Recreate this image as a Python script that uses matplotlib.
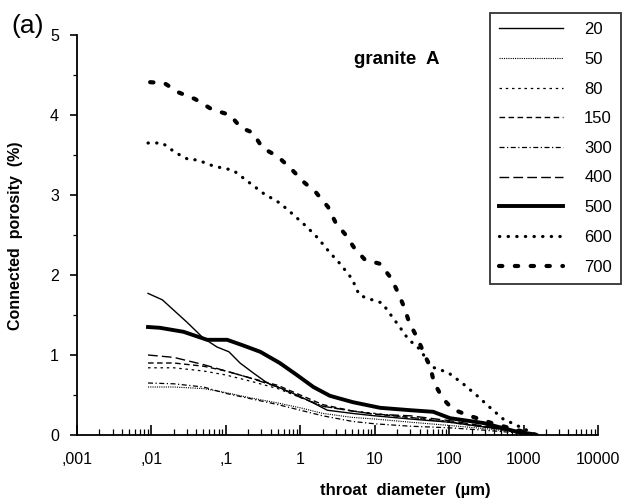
import matplotlib
matplotlib.use("Agg")
import matplotlib.pyplot as plt
from matplotlib.ticker import FixedLocator, LogLocator, NullFormatter

plt.rcParams['font.family'] = ['Liberation Sans', 'DejaVu Sans']

# throat diameter (um) and connected porosity (%)
x_common = [0.009, 0.02, 0.05, 0.1, 0.2, 0.5, 1, 2, 5, 10, 30, 100, 300, 1000, 1500]

x20 = [0.009, 0.014, 0.03, 0.05, 0.076, 0.11, 0.155, 0.23, 0.36, 0.53, 0.9, 1.5, 2.3, 5, 10, 30, 100, 300, 1000, 1500]
y20 = [1.77, 1.69, 1.41, 1.21, 1.1, 1.04, 0.9, 0.78, 0.65, 0.59, 0.5, 0.4, 0.31, 0.27, 0.24, 0.2, 0.16, 0.1, 0.04, 0.0]

y50 = [0.6, 0.6, 0.58, 0.53, 0.47, 0.4, 0.34, 0.27, 0.22, 0.2, 0.16, 0.12, 0.08, 0.03, 0.0]
y80 = [0.84, 0.84, 0.8, 0.75, 0.68, 0.58, 0.47, 0.36, 0.3, 0.27, 0.22, 0.17, 0.1, 0.04, 0.0]
y150 = [0.9, 0.9, 0.86, 0.8, 0.72, 0.62, 0.5, 0.38, 0.3, 0.26, 0.22, 0.16, 0.1, 0.03, 0.0]
y300 = [0.65, 0.64, 0.6, 0.52, 0.46, 0.38, 0.31, 0.24, 0.17, 0.14, 0.11, 0.09, 0.06, 0.02, 0.0]
y400 = [1.0, 0.97, 0.88, 0.8, 0.72, 0.6, 0.47, 0.36, 0.3, 0.26, 0.24, 0.18, 0.11, 0.04, 0.0]

x500 = [0.009, 0.013, 0.027, 0.056, 0.104, 0.17, 0.29, 0.53, 0.9, 1.5, 2.5, 5.1, 11.8, 30, 61, 103, 287, 820, 1350]
y500 = [1.35, 1.34, 1.29, 1.19, 1.19, 1.12, 1.04, 0.9, 0.75, 0.6, 0.49, 0.41, 0.34, 0.31, 0.29, 0.21, 0.15, 0.04, 0.01]

x600 = [0.009, 0.014, 0.021, 0.032, 0.041, 0.069, 0.125, 0.21, 0.32, 0.53, 0.75, 1.23, 1.73, 2.44, 3.43,
        4.97, 6.2, 7.9, 12.6, 15.6, 21.3, 28.1, 39.5, 59, 97, 154, 238, 367, 532, 900, 1230]
y600 = [3.65, 3.65, 3.53, 3.44, 3.44, 3.36, 3.31, 3.15, 3.02, 2.9, 2.78, 2.6, 2.46, 2.29, 2.14,
        1.95, 1.75, 1.71, 1.65, 1.53, 1.36, 1.2, 1.08, 0.85, 0.78, 0.64, 0.49, 0.33, 0.2, 0.1, 0.04]

x700 = [0.0096, 0.0148, 0.0235, 0.0385, 0.065, 0.114, 0.16, 0.23, 0.31, 0.5, 0.73, 1.12, 1.63, 2.36, 3.0,
        4.0, 5.3, 7.4, 11.8, 16.6, 20.6, 24.8, 29, 37, 45, 55.6, 63, 83, 113, 175, 400, 1000, 1500]
y700 = [4.41, 4.4, 4.28, 4.2, 4.07, 4.0, 3.84, 3.78, 3.59, 3.48, 3.34, 3.16, 3.03, 2.85, 2.65,
        2.51, 2.34, 2.19, 2.14, 1.96, 1.78, 1.6, 1.41, 1.22, 1.04, 0.85, 0.65, 0.45, 0.32, 0.25, 0.14, 0.04, 0.0]

xtick_labels = [",001", ",01", ",1", "1", "10", "100", "1000", "10000"]

fig = plt.figure(figsize=(6.24, 5.03), dpi=100)
ax = fig.add_axes([77 / 624, 1 - 435 / 503, (598 - 77) / 624, 400 / 503])

lines = []
lines += ax.plot(x20, y20, color='k', lw=1.0, label='20')
lines += ax.plot(x_common, y50, color='k', lw=0.8, dashes=(1, 1), label='50')
lines += ax.plot(x_common, y80, color='k', lw=0.9, dashes=(2, 3), label='80')
lines += ax.plot(x_common, y150, color='k', lw=1.0, dashes=(4, 2.5), label='150')
lines += ax.plot(x_common, y300, color='k', lw=0.9, dashes=(4, 2, 1, 2), label='300')
lines += ax.plot(x_common, y400, color='k', lw=1.0, dashes=(7, 3), label='400')
lines += ax.plot(x500, y500, color='k', lw=2.8, label='500')
lines += ax.plot(x600, y600, color='k', lw=2.3, dashes=(0.1, 2.6), dash_capstyle='round', label='600')
lines += ax.plot(x700, y700, color='k', lw=3.0, dashes=(0.8, 3.0), dash_capstyle='round', label='700')

ax.set_xscale('log')
ax.set_xlim(0.001, 10000)
ax.set_ylim(0, 5)
ax.xaxis.set_major_locator(FixedLocator([10.0 ** k for k in range(-3, 5)]))
ax.set_xticklabels(xtick_labels)
ax.xaxis.set_minor_locator(LogLocator(base=10, subs=range(2, 10)))
ax.xaxis.set_minor_formatter(NullFormatter())
ax.set_yticks([0, 1, 2, 3, 4, 5])
ax.set_yticks([0.5, 1.5, 2.5, 3.5, 4.5], minor=True)

for side in ['top', 'right']:
    ax.spines[side].set_visible(False)
for side in ['left', 'bottom']:
    ax.spines[side].set_linewidth(1.3)

ax.tick_params(axis='x', which='major', direction='in', length=7, width=1.2, labelsize=11.5, pad=12)
ax.tick_params(axis='x', which='minor', direction='in', length=4, width=0.9)
ax.tick_params(axis='y', which='major', direction='out', length=5, width=1.2, labelsize=11.5, pad=8)
ax.tick_params(axis='y', which='minor', direction='out', length=3, width=0.9)

fig.text(0.018, 0.972, "(a)", fontsize=19, va='top', ha='left')
fig.text(397 / 624, 1 - 60 / 503, "granite  A", fontsize=13.5, fontweight='bold', ha='center', va='center')
fig.text(405 / 624, 1 - 491 / 503, "throat  diameter  (µm)", fontsize=12, fontweight='bold',
         ha='center', va='center')
fig.text(16 / 624, 1 - 236 / 503, "Connected  porosity  (%)", fontsize=11.5, fontweight='bold',
         rotation=90, ha='center', va='center')

leg = fig.legend(handles=lines, loc='upper left', bbox_to_anchor=(490 / 624, 1 - 13 / 503),
                 fontsize=12, frameon=True, fancybox=False, handlelength=3.8, labelspacing=0.88,
                 handletextpad=1.3, borderpad=0.55, borderaxespad=0)
leg.get_frame().set_edgecolor('k')
leg.get_frame().set_linewidth(1.3)

fig.savefig("out.png", dpi=100)
